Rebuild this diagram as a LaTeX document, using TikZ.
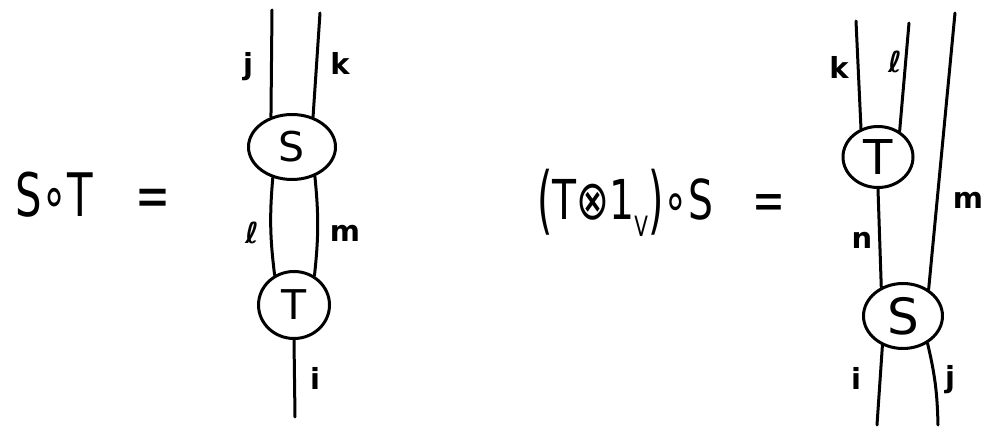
\documentclass[tikz,border=0pt]{standalone}
\usepackage{fontspec}
\setmainfont{DejaVu Sans}
\usetikzlibrary{shapes.geometric}
\begin{document}
\begin{tikzpicture}[x=1pt,y=-1pt,
  wire/.style={line width=3pt, line cap=round},
  boxnode/.style={draw, ellipse, line width=3pt, inner sep=0pt},
  lbl/.style={inner sep=0pt, font=\fontsize{29}{31}\selectfont\bfseries},
  formula/.style={inner sep=0pt, anchor=base west}]
\useasboundingbox (0,0) rectangle (989,435);

% ---------- left formula ----------
\node[formula] (f1) at (15,217)
  {\resizebox{155pt}{\height}{\fontsize{60}{62}\selectfont S∘T\quad =}};

% ---------- left diagram ----------
\node[boxnode, minimum width=87pt, minimum height=65pt,
      font=\fontsize{41}{42}\selectfont] (S1) at (292,147) {S};
\node[boxnode, minimum width=71pt, minimum height=67pt,
      font=\fontsize{41}{42}\selectfont] (T1) at (294,305) {T};
\coordinate (j1top) at (272,10);
\coordinate (k1top) at (320,13);
\coordinate (i1bot) at (295,417);

\draw[wire] (j1top) -- (S1.125);
\draw[wire] (k1top) -- (S1.55);
\draw[wire] (S1.238) to[bend right=6] (T1.123);
\draw[wire] (S1.308) to[bend left=6] (T1.55);
\draw[wire] (T1.270) -- (i1bot);

\node[lbl] (lj1) at (248,67) {j};
\node[lbl] (lk1) at (340,63) {k};
\node[lbl] (ll1) at (252,233) {ℓ};
\node[lbl] (lm1) at (345,233) {m};
\node[lbl] (li1) at (315,378) {i};

% ---------- right formula ----------
\node[formula] (f2) at (537,220)
  {\resizebox{248pt}{\height}{\fontsize{55}{57}\selectfont
   \raisebox{-0.1em}{\scalebox{1}[1.35]{(}}T⊗1\raisebox{-0.3em}{\fontsize{28}{30}\selectfont V}\raisebox{-0.1em}{\scalebox{1}[1.35]{)}}∘S\quad =}};

% ---------- right diagram ----------
\node[boxnode, minimum width=70pt, minimum height=61pt,
      font=\fontsize{48}{50}\selectfont] (T2) at (878,157) {T};
\node[boxnode, minimum width=79pt, minimum height=65pt,
      font=\fontsize{50}{52}\selectfont] (S2) at (903,316) {S};
\coordinate (k2top) at (856,21);
\coordinate (l2top) at (909,23);
\coordinate (m2top) at (955,13);
\coordinate (i2bot) at (877,425);
\coordinate (j2bot) at (938,425);

\draw[wire] (k2top) -- (T2.121);
\draw[wire] (l2top) -- (T2.50);
\draw[wire] (T2.270) -- (S2.127);
\draw[wire] (m2top) -- (S2.46);
\draw[wire] (S2.235) -- (i2bot);
\draw[wire] (S2.312) to[bend left=6] (j2bot);

\node[lbl] (lk2) at (839,67) {k};
\node[lbl] (ll2) at (895,62) {ℓ};
\node[lbl] (ln2) at (862,240) {n};
\node[lbl] (lm2) at (968,200) {m};
\node[lbl] (li2) at (856,378) {i};
\node[lbl] (lj2) at (950,380) {j};
\end{tikzpicture}
\end{document}
